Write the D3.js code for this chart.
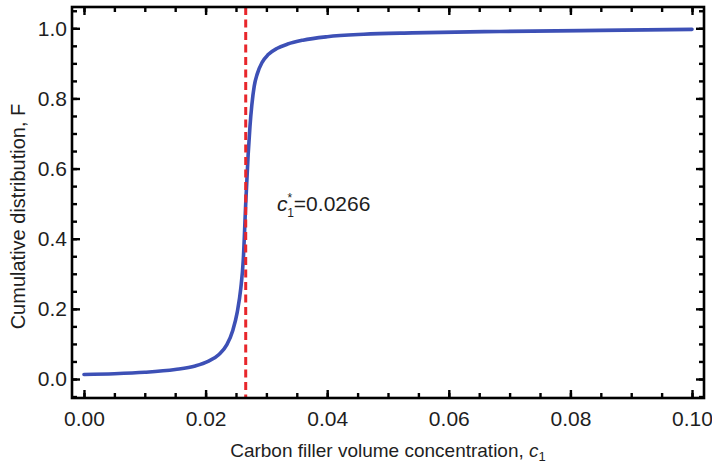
<!DOCTYPE html>
<html><head><meta charset="utf-8">
<script src="https://cdn.jsdelivr.net/npm/d3@7"></script>
<style>
body{margin:0;background:#fff}
text{font-family:"Liberation Sans",Arial,sans-serif;fill:#1e1e1e}
</style>
</head><body><svg id="chart" width="712" height="463"></svg>
<script>
// ---- data ----
const concentration = [0.0000,0.0050,0.0100,0.0150,0.0183,0.0204,0.0222,0.0235,0.0245,0.0252,0.0258,0.0262,0.0266,0.0270,0.0273,0.0276,0.0280,0.0285,0.0293,0.0303,0.0318,0.0335,0.0360,0.0400,0.0460,0.0540,0.0684,0.0849,0.1000];
const cumulative    = [0.013, 0.015, 0.019, 0.027, 0.037, 0.050, 0.070, 0.098, 0.140, 0.190, 0.260, 0.340, 0.500, 0.640, 0.720, 0.780, 0.835, 0.870, 0.903, 0.925, 0.943, 0.955, 0.966, 0.976, 0.983, 0.987, 0.991, 0.994, 0.997];
const xTicks = [0, 0.02, 0.04, 0.06, 0.08, 0.10];
const xTickLabels = ["0.00","0.02","0.04","0.06","0.08","0.10"];
const xMinorTicks = d3.range(0, 0.1001, 0.005);
const yTicks = [0, 0.2, 0.4, 0.6, 0.8, 1.0];
const yTickLabels = ["0.0","0.2","0.4","0.6","0.8","1.0"];
const yMinorTicks = d3.range(-0.05, 1.051, 0.05);
const criticalC = 0.0266;
const criticalLabel = "=0.0266";
const xTitle = "Carbon filler volume concentration, ";
const yTitle = "Cumulative distribution, F";

// ---- layout ----
const L = 72, R = 704, T = 7, B = 398;
const svg = d3.select("#chart");
const x = d3.scaleLinear().domain([-0.00197, 0.10197]).range([L, R]);
const y = d3.scaleLinear().domain([-0.0542, 1.0607]).range([B, T]);

const g = svg.append("g");

// curve
const line = d3.line().x((d,i)=>x(concentration[i])).y((d,i)=>y(cumulative[i])).curve(d3.curveMonotoneX);
g.append("path").datum(cumulative).attr("d", line)
  .attr("fill","none").attr("stroke","#3d50b6").attr("stroke-width",3.6)
  .attr("stroke-linejoin","round").attr("stroke-linecap","round");

// critical line
g.append("line").attr("x1", x(criticalC)).attr("x2", x(criticalC))
  .attr("y1", T).attr("y2", B)
  .attr("stroke","#e8262b").attr("stroke-width",3).attr("stroke-dasharray","8,4.5");

// axes (ticks inward on all four sides)
function styleAxis(sel){
  sel.select(".domain").remove();
  sel.selectAll(".tick line").attr("stroke","#000").attr("stroke-width",2.4);
  sel.selectAll(".tick text").style("font-size","21px").attr("fill","#1e1e1e");
}
const ax = [
  [d3.axisBottom(x).tickValues(xTicks).tickFormat((d,i)=>xTickLabels[i]).tickSize(-8).tickPadding(13), `translate(0,${B})`],
  [d3.axisBottom(x).tickValues(xMinorTicks).tickFormat("").tickSize(-5), `translate(0,${B})`],
  [d3.axisTop(x).tickValues(xTicks).tickFormat("").tickSize(-8), `translate(0,${T})`],
  [d3.axisTop(x).tickValues(xMinorTicks).tickFormat("").tickSize(-5), `translate(0,${T})`],
  [d3.axisLeft(y).tickValues(yTicks).tickFormat((d,i)=>yTickLabels[i]).tickSize(-8).tickPadding(5), `translate(${L},0)`],
  [d3.axisLeft(y).tickValues(yMinorTicks).tickFormat("").tickSize(-5), `translate(${L},0)`],
  [d3.axisRight(y).tickValues(yTicks).tickFormat("").tickSize(-8), `translate(${R},0)`],
  [d3.axisRight(y).tickValues(yMinorTicks).tickFormat("").tickSize(-5), `translate(${R},0)`]
];
ax.forEach(([a,t])=>{ g.append("g").attr("transform",t).call(a).call(styleAxis); });

// frame
g.append("rect").attr("x",L).attr("y",T).attr("width",R-L).attr("height",B-T)
  .attr("fill","none").attr("stroke","#000").attr("stroke-width",2.6);

// x title
const xt = svg.append("text").attr("x",(L+R)/2).attr("y",457).attr("text-anchor","middle").style("font-size","19px");
xt.append("tspan").text(xTitle);
xt.append("tspan").style("font-style","italic").text("c");
xt.append("tspan").attr("dy",4).style("font-size","13px").text("1");

// y title
svg.append("text").attr("transform",`translate(25,${(T+B)/2 + 14}) rotate(-90)`)
  .attr("text-anchor","middle").style("font-size","20px").text(yTitle);

// annotation
const an = svg.append("text").attr("x",277).attr("y",211).style("font-size","21px");
an.append("tspan").style("font-style","italic").text("c");
an.append("tspan").attr("dy",-9).style("font-size","12px").text("*");
an.append("tspan").attr("dx",-5).attr("dy",15).style("font-size","12px").text("1");
an.append("tspan").attr("dy",-6).text(criticalLabel);
</script>
</body></html>
